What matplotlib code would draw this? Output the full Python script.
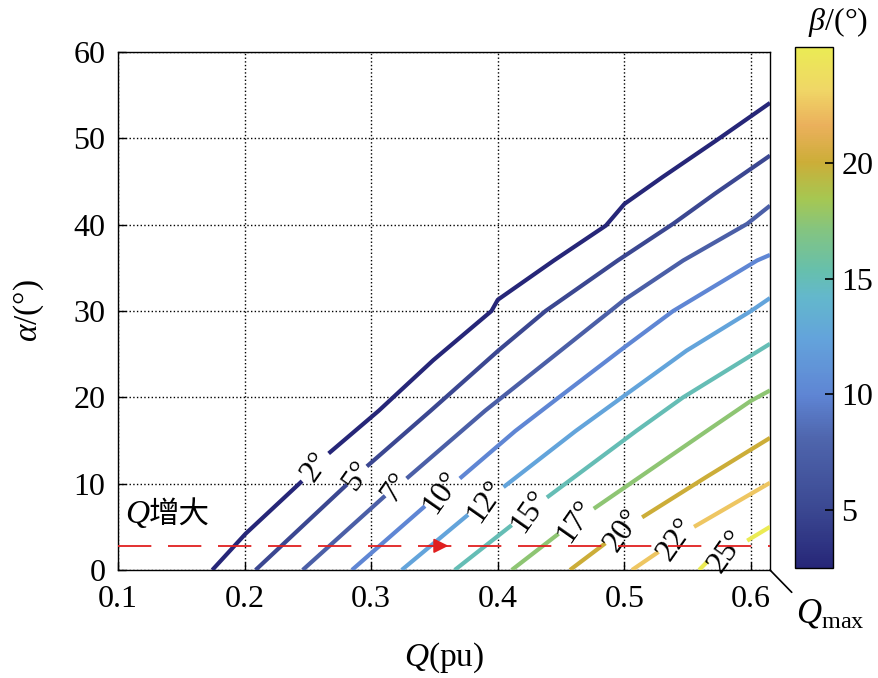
import numpy as np
import matplotlib
matplotlib.use('Agg')
import matplotlib.pyplot as plt
from matplotlib.colors import LinearSegmentedColormap, Normalize
from matplotlib.cm import ScalarMappable

plt.rcParams['font.family'] = ['Liberation Serif', 'Noto Sans CJK SC']
plt.rcParams['mathtext.fontset'] = 'custom'
plt.rcParams['mathtext.rm'] = 'Liberation Serif'
plt.rcParams['mathtext.it'] = 'Liberation Serif:italic'
plt.rcParams['mathtext.bf'] = 'Liberation Serif:bold'
plt.rcParams['lines.scale_dashes'] = False

nan = np.nan
# beta contour levels (colour values) and their printed labels
beta_levels = [2.5, 5, 7.5, 10, 12.5, 15, 17.5, 20, 22.5, 25]
beta_labels = ['2°', '5°', '7°', '10°', '12°', '15°', '17°', '20°', '22°', '25°']

# contour lines (Q in pu, alpha in degrees); nan = label gap
q_b2 = [0.1745, 0.2008, 0.2454, nan, 0.2664, 0.306, 0.349, 0.395, 0.4, 0.4443, 0.4854, 0.5, 0.530, 0.573, 0.615]
a_b2 = [0, 4.2, 10.3, nan, 13.5, 18.45, 24.3, 30.0, 31.3, 35.85, 39.9, 42.4, 45.5, 49.8, 54.1]
q_b5 = [0.2087, 0.2808, nan, 0.2966, 0.347, 0.4003, 0.4377, 0.4947, 0.5385, 0.5716, 0.615]
a_b5 = [0, 9.9, nan, 12.0, 18.45, 25.4, 30.0, 35.85, 40.1, 43.6, 48.0]
q_b7 = [0.2459, 0.311, nan, 0.328, 0.390, 0.4414, 0.5, 0.5464, 0.597, 0.615]
a_b7 = [0, 8.6, nan, 10.6, 18.45, 24.45, 31.3, 35.85, 40.1, 42.2]
q_b10 = [0.2848, 0.3425, nan, 0.370, 0.4138, 0.4483, 0.5, 0.5385, 0.6048, 0.615]
a_b10 = [0, 7.4, nan, 10.6, 16.1, 20.0, 25.8, 30.0, 35.85, 36.5]
q_b12 = [0.3241, 0.3765, nan, 0.4045, 0.4615, 0.5, 0.549, 0.6, 0.615]
a_b12 = [0, 6.4, nan, 9.6, 16.1, 20.2, 25.4, 30.0, 31.5]
q_b15 = [0.366, 0.411, nan, 0.4388, 0.5093, 0.5464, 0.615]
a_b15 = [0, 5.2, nan, 8.4, 16.1, 20.0, 26.2]
q_b17 = [0.411, 0.448, nan, 0.4758, 0.565, 0.6, 0.615]
a_b17 = [0, 4.2, nan, 7.1, 16.1, 19.6, 20.8]
q_b20 = [0.457, 0.485, nan, 0.514, 0.565, 0.615]
a_b20 = [0, 3.1, nan, 6.1, 10.8, 15.3]
q_b22 = [0.506, 0.527, nan, 0.555, 0.615]
a_b22 = [0, 2.1, nan, 5.0, 10.1]
q_b25 = [0.559, 0.5657, nan, 0.597, 0.615]
a_b25 = [0, 1.0, nan, 3.4, 5.0]

lines_q = [q_b2, q_b5, q_b7, q_b10, q_b12, q_b15, q_b17, q_b20, q_b22, q_b25]
lines_a = [a_b2, a_b5, a_b7, a_b10, a_b12, a_b15, a_b17, a_b20, a_b22, a_b25]

# label centres (in the gaps)
label_q = [0.2560, 0.2887, 0.3195, 0.3560, 0.3905, 0.4250, 0.4620, 0.4995, 0.5410, 0.5810]
label_a = [11.9, 10.95, 9.6, 9.0, 8.0, 6.8, 5.65, 4.6, 3.55, 2.2]

q_line_alpha = 2.8      # red dashed line level
q_max = 0.615

cmap_colors = [(0.00, (0.15, 0.15, 0.47)),
               (0.11, (0.23, 0.28, 0.57)),
               (0.25, (0.31, 0.40, 0.68)),
               (0.33, (0.37, 0.52, 0.83)),
               (0.44, (0.39, 0.64, 0.86)),
               (0.52, (0.39, 0.72, 0.80)),
               (0.57, (0.40, 0.75, 0.68)),
               (0.65, (0.52, 0.77, 0.50)),
               (0.71, (0.65, 0.78, 0.32)),
               (0.78, (0.80, 0.68, 0.22)),
               (0.85, (0.92, 0.69, 0.36)),
               (0.92, (0.94, 0.84, 0.40)),
               (1.00, (0.92, 0.92, 0.33))]
cmap = LinearSegmentedColormap.from_list('parula_like', cmap_colors)
norm = Normalize(vmin=2.5, vmax=25)

fig = plt.figure(figsize=(8.79, 6.78), dpi=100)
ax = fig.add_axes([0.1342, 0.1593, 0.7418, 0.764])
cax = fig.add_axes([0.9044, 0.1622, 0.0432, 0.7684])

ax.set_xlim(0.1, q_max)
ax.set_ylim(0, 60)
ax.set_xticks([0.1, 0.2, 0.3, 0.4, 0.5, 0.6])
ax.set_xticklabels(['0.1', '0.2', '0.3', '0.4', '0.5', '0.6'])
ax.set_yticks([0, 10, 20, 30, 40, 50, 60])
ax.grid(True, linestyle=':', color='black', linewidth=1.0)
ax.set_axisbelow(True)
ax.tick_params(direction='in', length=6, width=1, labelsize=23)
ax.tick_params(axis='x', pad=11)
ax.tick_params(axis='y', pad=9)
for s in ax.spines.values():
    s.set_linewidth(1.0)

for q, a, lev in zip(lines_q, lines_a, beta_levels):
    ax.plot(q, a, color=cmap(norm(lev)), lw=3, solid_capstyle='butt', zorder=3)

for q, a, s in zip(label_q, label_a, beta_labels):
    ax.text(q, a, s, rotation=55, rotation_mode='anchor', ha='center', va='center',
            fontsize=23, zorder=4)

ax.plot([0.1, q_max], [q_line_alpha, q_line_alpha], color='#e02020', lw=1.3,
        dashes=(24, 12), zorder=5)
ax.annotate('', xy=(0.361, q_line_alpha), xytext=(0.345, q_line_alpha),
            arrowprops=dict(arrowstyle='-|>', color='#e02020', lw=1.3,
                            mutation_scale=22, shrinkA=0, shrinkB=0), zorder=6)

ax.text(0.1055, 6.4, 'Q', fontstyle='italic', fontsize=24, ha='left', va='center')
ax.annotate('增大', xy=(0.1055, 6.4), xytext=(17, 0), textcoords='offset points',
            fontsize=22, ha='left', va='center', family=['Noto Sans CJK SC'])

ax.set_xlabel(r'$Q$(pu)', fontsize=24, labelpad=19)
ax.set_ylabel(r'$\alpha$/(°)', fontsize=24, labelpad=20)

ax.annotate(r'$Q_{\rm max}$', xy=(q_max, 0), xycoords='data',
            xytext=(0.906, 0.095), textcoords='figure fraction',
            fontsize=25, ha='left', va='center',
            arrowprops=dict(arrowstyle='-', color='black', lw=1.2,
                            shrinkA=2, shrinkB=0, relpos=(0.0, 1.0)),
            annotation_clip=False)

sm = ScalarMappable(norm=norm, cmap=cmap)
cb = fig.colorbar(sm, cax=cax, ticks=[5, 10, 15, 20])
cb.outline.set_linewidth(1.0)
cax.tick_params(direction='in', length=6, width=1.2, labelsize=23, right=True, pad=6)
fig.text(0.953, 0.968, r'$\beta$/(°)', ha='center', va='center', fontsize=23)

fig.savefig('out.png', dpi=100)
